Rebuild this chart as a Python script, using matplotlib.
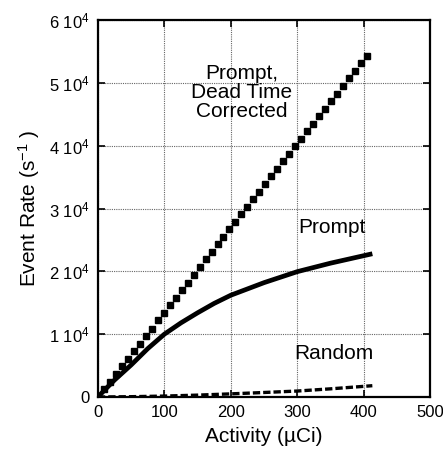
import matplotlib
matplotlib.use("Agg")
import matplotlib.pyplot as plt

plt.rcParams['font.family'] = ['Liberation Sans', 'DejaVu Sans']
plt.rcParams['mathtext.fontset'] = 'custom'
plt.rcParams['mathtext.rm'] = 'Liberation Sans'
plt.rcParams['mathtext.it'] = 'Liberation Sans'
plt.rcParams['mathtext.default'] = 'regular'

# Prompt, dead time corrected (markers)
dtc_x = [0, 9, 18, 27, 36, 45, 54, 63, 72, 81, 90, 99, 108, 117, 126, 135, 144,
         153, 162, 171, 180, 189, 198, 207, 216, 225, 234, 243, 252, 261, 270,
         279, 288, 297, 306, 315, 324, 333, 342, 351, 360, 369, 378, 387, 396, 405]
dtc_y = [0, 1220, 2430, 3650, 4860, 6080, 7290, 8510, 9720, 10900, 12200, 13400,
         14600, 15800, 17000, 18200, 19400, 20700, 21900, 23100, 24300, 25500,
         26700, 27900, 29100, 30300, 31500, 32700, 33900, 35100, 36300, 37500,
         38700, 39900, 41100, 42300, 43500, 44700, 45900, 47100, 48300, 49500,
         50700, 51900, 53100, 54300]

# Prompt (solid)
prompt_x = [0, 10, 25, 50, 75, 100, 125, 150, 175, 200, 250, 300, 350, 413]
prompt_y = [0, 1100, 2700, 5100, 7700, 10000, 11800, 13400, 14900, 16200,
            18200, 19950, 21300, 22800]

# Random (dashed)
random_x = [0, 50, 100, 150, 200, 250, 300, 350, 413]
random_y = [0, 50, 150, 300, 500, 720, 950, 1300, 1800]

xticks = [0, 100, 200, 300, 400, 500]
yticks = [0, 10000, 20000, 30000, 40000, 50000, 60000]
ytick_labels = ['0', '1 10$^{4}$', '2 10$^{4}$', '3 10$^{4}$', '4 10$^{4}$',
                '5 10$^{4}$', '6 10$^{4}$']

fig = plt.figure(figsize=(4.43, 4.53), dpi=100)
ax = fig.add_axes([0.221, 0.1236, 0.750, 0.8322])

ax.plot(dtc_x, dtc_y, linestyle='none', marker='s', markersize=3.8,
        color='black')
ax.plot(prompt_x, prompt_y, '-', color='black', linewidth=3.4,
        solid_capstyle='butt')
ax.plot(random_x, random_y, color='black', linewidth=2.4,
        dashes=(2.2, 0.9))

ax.set_xlim(0, 500)
ax.set_ylim(0, 60000)
ax.set_xticks(xticks)
ax.set_xticklabels([str(v) for v in xticks])
ax.set_yticks(yticks)
ax.set_yticklabels(ytick_labels)

ax.grid(True, linestyle=(0, (1, 1)), color='#666666', linewidth=0.8)
ax.tick_params(direction='in', top=True, right=True, length=5, width=1.2,
               labelsize=12, pad=6)
for s in ax.spines.values():
    s.set_linewidth(1.6)

ax.set_xlabel('Activity (µCi)', fontsize=15, labelpad=5)
ax.set_ylabel('Event Rate (s$^{-1}$ )', fontsize=15, labelpad=5)

ax.text(216, 48400, 'Prompt,\nDead Time\nCorrected', fontsize=15,
        ha='center', va='center', linespacing=1.0)
ax.text(352, 26900, 'Prompt', fontsize=15, ha='center', va='center')
ax.text(355, 7000, 'Random', fontsize=15, ha='center', va='center')

fig.savefig('out.png', dpi=100)
